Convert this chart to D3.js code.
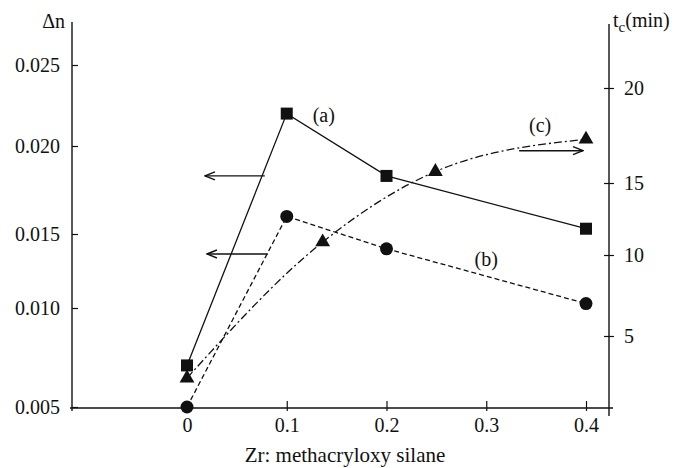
<!DOCTYPE html>
<html>
<head>
<meta charset="utf-8">
<script src="https://cdn.jsdelivr.net/npm/d3@7"></script>
<style>
  body { margin: 0; background: #fff; }
</style>
</head>
<body>
<div id="vis"></div>
<script>
// ---- data ----
var ratio = [0, 0.1, 0.2, 0.4];                       // Zr : methacryloxy silane
var dnA = [0.0071, 0.0220, 0.0183, 0.0153];           // (a) squares, left axis
var dnB = [0.0050, 0.0160, 0.0140, 0.0103];           // (b) circles, left axis
var ratioC = [0, 0.136, 0.249, 0.4];                  // (c) triangles x
var tcC = [2.4, 10.9, 15.6, 17.3];                    // (c) triangles, right axis (min)

var xTicks = [0, 0.1, 0.2, 0.3, 0.4];
var leftTicks = [0.005, 0.010, 0.015, 0.020, 0.025];
var rightTicks = [5, 10, 15, 20];

// annotation arrows  [x from, x to, y]  (left = Δn axis, right = tc axis)
var arrowsLeft = [[0.078, 0.018, 0.0183], [0.081, 0.020, 0.01365]];
var arrowsRight = [[0.333, 0.397, 16.7]];

var W = 685, H = 468;
var svg = d3.select("#vis").append("svg")
  .attr("width", W).attr("height", H);

// scanned figure: tick spacing is not even, so the y scales go through the tick positions
var x = d3.scaleLinear().domain([0, 0.4]).range([187, 586]);
var yL = d3.scaleLinear().domain(leftTicks).range([407, 308, 234, 146, 65]);
var yR = d3.scaleLinear().domain(rightTicks).range([336, 255, 183, 88]);

var axisL = 72, axisR = 609, axisB = 408;

// arrow head
svg.append("defs").append("marker")
  .attr("id", "head")
  .attr("viewBox", "0 0 12 10")
  .attr("refX", 11).attr("refY", 5)
  .attr("markerWidth", 12).attr("markerHeight", 10)
  .attr("markerUnits", "userSpaceOnUse")
  .attr("orient", "auto")
  .append("path")
  .attr("d", "M1,1 L11,5 L1,9")
  .attr("fill", "none").attr("stroke", "#111").attr("stroke-width", 1.4);

// axis lines
svg.append("line").attr("x1", axisL).attr("x2", axisL).attr("y1", 22).attr("y2", 411)
  .attr("stroke", "#111").attr("stroke-width", 1.4);
svg.append("line").attr("x1", axisR).attr("x2", axisR).attr("y1", 24).attr("y2", 416)
  .attr("stroke", "#111").attr("stroke-width", 1.4);
svg.append("line").attr("x1", axisL - 2).attr("x2", axisR + 4).attr("y1", axisB).attr("y2", axisB)
  .attr("stroke", "#111").attr("stroke-width", 1.4);

// left axis
var gL = svg.append("g").attr("transform", "translate(" + axisL + ",0)")
  .call(d3.axisLeft(yL).tickValues(leftTicks).tickFormat(d3.format(".3f")).tickSize(5).tickPadding(5));
gL.select(".domain").remove();
gL.selectAll(".tick line").attr("x2", 6).attr("stroke", "#111").attr("stroke-width", 1.2);
gL.selectAll(".tick text").attr("dx", -2);

// right axis
var gR = svg.append("g").attr("transform", "translate(" + axisR + ",0)")
  .call(d3.axisRight(yR).tickValues(rightTicks).tickSize(5).tickPadding(10));
gR.select(".domain").remove();
gR.selectAll(".tick line").attr("x1", -5).attr("stroke", "#111").attr("stroke-width", 1.2);

// bottom axis
var gB = svg.append("g").attr("transform", "translate(0," + axisB + ")")
  .call(d3.axisBottom(x).tickValues(xTicks).tickFormat(function(d){ return d === 0 ? "0" : d3.format(".1f")(d); })
    .tickSize(3).tickPadding(7));
gB.select(".domain").remove();
gB.selectAll(".tick line").attr("y1", -7).attr("stroke", "#111").attr("stroke-width", 1.2);

// axis titles
svg.append("text").attr("x", 65).attr("y", 28).attr("text-anchor", "end")
  .text("Δn");
var tc = svg.append("text").attr("x", 613).attr("y", 27);
tc.append("tspan").text("t");
tc.append("tspan").attr("dy", 5).text("c");
tc.append("tspan").attr("dy", -5).text("(min)");
var xTitle = svg.append("text").attr("x", 345).attr("y", 462).attr("text-anchor", "middle")
  .text("Zr: methacryloxy silane");

// lines
var lineL = d3.line().x(function(d){ return x(d[0]); }).y(function(d){ return yL(d[1]); });
var lineC = d3.line().curve(d3.curveMonotoneX)
  .x(function(d){ return x(d[0]); }).y(function(d){ return yR(d[1]); });

var ptsA = ratio.map(function(r, i){ return [r, dnA[i]]; });
var ptsB = ratio.map(function(r, i){ return [r, dnB[i]]; });
var ptsC = ratioC.map(function(r, i){ return [r, tcC[i]]; });

svg.append("path").datum(ptsA).attr("d", lineL)
  .attr("fill", "none").attr("stroke", "#111").attr("stroke-width", 1.3);
svg.append("path").datum(ptsB).attr("d", lineL)
  .attr("fill", "none").attr("stroke", "#111").attr("stroke-width", 1.3)
  .attr("stroke-dasharray", "5,3");
svg.append("path").datum(ptsC).attr("d", lineC)
  .attr("fill", "none").attr("stroke", "#111").attr("stroke-width", 1.3)
  .attr("stroke-dasharray", "8,3,2,3");

// markers
svg.selectAll("rect.sq").data(ptsA).enter().append("rect")
  .attr("class", "sq")
  .attr("x", function(d){ return x(d[0]) - 6; })
  .attr("y", function(d){ return yL(d[1]) - 6; })
  .attr("width", 12).attr("height", 12).attr("fill", "#111");
svg.selectAll("circle.ci").data(ptsB).enter().append("circle")
  .attr("class", "ci")
  .attr("cx", function(d){ return x(d[0]); })
  .attr("cy", function(d){ return yL(d[1]); })
  .attr("r", 6.5).attr("fill", "#111");
svg.selectAll("path.tri").data(ptsC).enter().append("path")
  .attr("class", "tri")
  .attr("transform", function(d){ return "translate(" + x(d[0]) + "," + yR(d[1]) + ")"; })
  .attr("d", d3.symbol().type(d3.symbolTriangle).size(95))
  .attr("fill", "#111");

// arrows
svg.selectAll("line.al").data(arrowsLeft).enter().append("line")
  .attr("class", "al")
  .attr("x1", function(d){ return x(d[0]); }).attr("x2", function(d){ return x(d[1]); })
  .attr("y1", function(d){ return yL(d[2]); }).attr("y2", function(d){ return yL(d[2]); })
  .attr("stroke", "#111").attr("stroke-width", 1.4).attr("marker-end", "url(#head)");
svg.selectAll("line.ar").data(arrowsRight).enter().append("line")
  .attr("class", "ar")
  .attr("x1", function(d){ return x(d[0]); }).attr("x2", function(d){ return x(d[1]); })
  .attr("y1", function(d){ return yR(d[2]); }).attr("y2", function(d){ return yR(d[2]); })
  .attr("stroke", "#111").attr("stroke-width", 1.4).attr("marker-end", "url(#head)");

// series labels
svg.append("text").attr("x", x(0.126)).attr("y", yL(0.0219)).attr("dy", "0.35em")
  .text("(a)");
svg.append("text").attr("x", x(0.30)).attr("y", yL(0.0133)).attr("dy", "0.35em")
  .attr("text-anchor", "middle").text("(b)");
svg.append("text").attr("x", x(0.354)).attr("y", yR(18.05)).attr("dy", "0.35em")
  .attr("text-anchor", "middle").text("(c)");

// all text: Times-like serif, as in the scan
svg.selectAll("text")
  .style("font-family", "'Liberation Serif'")
  .style("font-size", "20px")
  .style("fill", "#111");
xTitle.style("font-size", "21px");
tc.selectAll("tspan").filter(function(d, i){ return i === 1; }).style("font-size", "15px");
</script>
</body>
</html>
